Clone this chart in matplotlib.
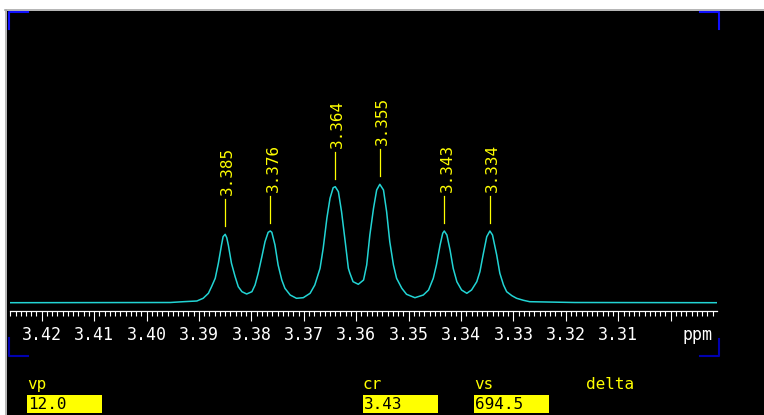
import numpy as np
import matplotlib.pyplot as plt
from matplotlib.patches import Rectangle
from matplotlib.ticker import FixedLocator, MultipleLocator

plt.rcParams["font.family"] = ["DejaVu Sans Mono"]

# spectrum trace (ppm, intensity above baseline)
ppm = [3.4261, 3.3955, 3.3930, 3.3904, 3.3892, 3.3882, 3.3876, 3.3869, 3.3863, 3.3857,
       3.3854, 3.3850, 3.3847, 3.3844, 3.3838, 3.3831, 3.3825, 3.3818, 3.3809, 3.3799,
       3.3793, 3.3787, 3.3780, 3.3774, 3.3768, 3.3764, 3.3761, 3.3755, 3.3749, 3.3742,
       3.3736, 3.3726, 3.3714, 3.3701, 3.3688, 3.3679, 3.3669, 3.3663, 3.3656, 3.3650,
       3.3644, 3.3640, 3.3634, 3.3628, 3.3621, 3.3615, 3.3612, 3.3606, 3.3596, 3.3586,
       3.3580, 3.3574, 3.3567, 3.3561, 3.3555, 3.3548, 3.3542, 3.3536, 3.3529, 3.3523,
       3.3513, 3.3504, 3.3488, 3.3472, 3.3462, 3.3453, 3.3447, 3.3440, 3.3435, 3.3432,
       3.3427, 3.3421, 3.3415, 3.3408, 3.3399, 3.3389, 3.3380, 3.3370, 3.3364, 3.3358,
       3.3351, 3.3345, 3.3340, 3.3332, 3.3326, 3.3319, 3.3313, 3.3303, 3.3294, 3.3281,
       3.3269, 3.3183, 3.2912]
intensity = [0.3, 0.5, 1.3, 2.0, 4.7, 9.7, 16.3, 24.7, 39.7, 58.0,
             66.3, 68.7, 65.3, 58.0, 39.7, 26.3, 16.3, 11.3, 9.0, 11.3,
             18.0, 29.7, 46.3, 61.3, 70.7, 72.0, 70.7, 58.0, 38.0, 23.0,
             14.7, 8.0, 4.7, 5.3, 9.7, 18.0, 34.7, 54.7, 84.7, 104.7,
             115.3, 116.3, 111.3, 91.3, 61.3, 34.7, 29.7, 21.3, 18.7, 23.0,
             38.0, 68.0, 94.7, 113.0, 118.7, 113.0, 91.3, 61.3, 38.0, 24.7,
             14.7, 8.7, 5.3, 8.0, 13.0, 24.7, 38.0, 58.0, 69.7, 72.0,
             68.0, 53.0, 34.7, 21.3, 13.0, 9.7, 13.0, 21.3, 31.3, 48.0,
             66.3, 72.0, 68.0, 48.0, 29.7, 18.0, 11.3, 7.3, 4.7, 2.7,
             1.3, 0.5, 0.3]

peak_labels = ["3.385", "3.376", "3.364", "3.355", "3.343", "3.334"]

tick_values = [3.42, 3.41, 3.40, 3.39, 3.38, 3.37, 3.36, 3.35, 3.34, 3.33, 3.32, 3.31, 3.30]
tick_labels = ["3.42", "3.41", "3.40", "3.39", "3.38", "3.37", "3.36",
               "3.35", "3.34", "3.33", "3.32", "3.31", ""]

param_names = ["vp", "cr", "vs", "delta"]
param_values = ["12.0", "3.43", "694.5", None]

W, H = 764, 415
fig = plt.figure(figsize=(W / 100, H / 100), dpi=100, facecolor="white")

# screen backdrop, in pixel coordinates
bg = fig.add_axes([0, 0, 1, 1])
bg.set_xlim(0, W)
bg.set_ylim(H, 0)
bg.axis("off")
bg.add_patch(Rectangle((7, 11), W - 7, H - 11, color="black", lw=0))
bg.plot([5, W], [10.5, 10.5], color="#a8a8a8", lw=1.2)
bg.plot([6, 6], [10.5, H], color="#a8a8a8", lw=1.2)

# blue corner marks
top_blue, bot_blue = "#1010ff", "#0000b0"
bg.plot([28, 9, 9], [12.5, 12.5, 29], color=top_blue, lw=1.5)
bg.plot([700, 718.5, 718.5], [12.5, 12.5, 29], color=top_blue, lw=1.5)
bg.plot([9, 9, 28], [338, 356, 356], color=bot_blue, lw=1.5)
bg.plot([718.5, 718.5, 700], [339, 356, 356], color=bot_blue, lw=1.5)

bg.text(698, 335, "ppm", color="white", fontsize=12, ha="center", va="center")

# parameter fields
name_x = [27, 363, 474, 586]
for name, val, x in zip(param_names, param_values, name_x):
    bg.text(x, 389, name, color="yellow", fontsize=11.5, ha="left", va="baseline")
    if val is not None:
        bg.add_patch(Rectangle((x, 395), 75, 18, color="yellow", lw=0))
        bg.text(x + 1, 404.5, val, color="black", fontsize=11.5, ha="left", va="center")

# spectrum axes
ax = fig.add_axes([10 / W, 1 - 310.5 / H, (716.7 - 10) / W, (310.5 - 11) / H])
ax.patch.set_alpha(0)
ax.set_xlim(3.42605, 3.29123)
ax.set_ylim(-7.5, 292)
ax.plot(ppm, intensity, color="#22d4d4", lw=1.1)

for s in ["top", "left", "right"]:
    ax.spines[s].set_visible(False)
ax.spines["bottom"].set_color("white")
ax.spines["bottom"].set_linewidth(0.9)
ax.set_yticks([])
ax.xaxis.set_major_locator(FixedLocator(tick_values))
ax.set_xticklabels(tick_labels)
ax.xaxis.set_minor_locator(MultipleLocator(0.001))
ax.tick_params(axis="x", which="major", direction="out", length=7.2, width=0.8,
               color="white", labelcolor="white", labelsize=12, pad=4)
ax.tick_params(axis="x", which="minor", direction="out", length=3.6, width=0.8,
               color="white")

# peak picks
ppm_arr = np.array(ppm)
inten_arr = np.array(intensity)
for lab in peak_labels:
    near = np.abs(ppm_arr - float(lab)) < 0.0012
    i = np.argmax(np.where(near, inten_arr, -1))
    px, h = ppm_arr[i], inten_arr[i]
    ax.plot([px, px], [h + 8, h + 35], color="yellow", lw=0.9)
    ax.text(px - 0.0005, h + 39, lab, rotation=90, ha="center", va="bottom",
            color="yellow", fontsize=11.5)

fig.savefig("out.png", dpi=100, facecolor="white")
